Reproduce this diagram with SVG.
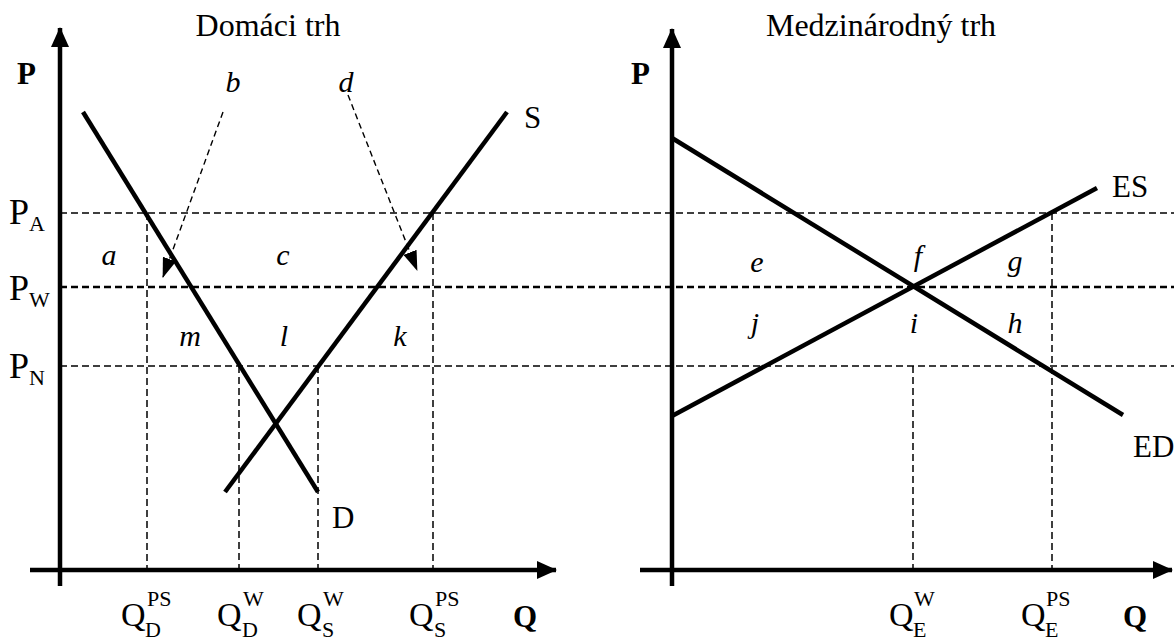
<svg xmlns="http://www.w3.org/2000/svg" width="1174" height="644" viewBox="0 0 1174 644">
<defs>
<marker id="ax" markerWidth="20" markerHeight="18" refX="19" refY="9" orient="auto" markerUnits="userSpaceOnUse"><path d="M0,0 L20,9 L0,18 Z" fill="#000"/></marker>
<marker id="ar" markerWidth="20" markerHeight="14" refX="19" refY="7" orient="auto" markerUnits="userSpaceOnUse"><path d="M0,0 L20,7 L0,14 Z" fill="#000"/></marker>
</defs>
<style>
.axis{stroke:#000;stroke-width:4.5;fill:none}
.curve{stroke:#000;stroke-width:4.5;fill:none;stroke-linecap:butt}
.dash{stroke:#000;stroke-width:1.5;stroke-dasharray:7 4;fill:none}
.dashb{stroke:#000;stroke-width:2.5;stroke-dasharray:7 4;fill:none}
.ptr{stroke:#000;stroke-width:1.4;stroke-dasharray:6 4;fill:none}
.t{font-family:"Liberation Serif",serif;fill:#000}
.title{font-size:32px}
.bold{font-family:"Liberation Serif",serif;font-weight:bold;font-size:31px}
.lab{font-size:31px}
.it{font-family:"Liberation Serif",serif;font-style:italic;font-size:30px}
.big{font-size:34px}
.sub{font-size:22px}
.pp{font-size:36px}
</style>
<rect width="1174" height="644" fill="#fff"/>
<g id="guides">
<line class="dash" x1="60" y1="213" x2="1174" y2="213"/>
<line class="dashb" x1="60" y1="287" x2="1174" y2="287"/>
<line class="dash" x1="60" y1="366" x2="1174" y2="366"/>
<line class="dash" x1="147" y1="213" x2="147" y2="570"/>
<line class="dash" x1="239" y1="366" x2="239" y2="570"/>
<line class="dash" x1="318" y1="366" x2="318" y2="570"/>
<line class="dash" x1="433" y1="213" x2="433" y2="570"/>
<line class="dash" x1="913" y1="366" x2="913" y2="570"/>
<line class="dash" x1="1052" y1="213" x2="1052" y2="570"/>
</g>
<g id="axes">
<line class="axis" x1="60" y1="586" x2="60" y2="28" marker-end="url(#ax)"/>
<line class="axis" x1="30" y1="570" x2="556" y2="570" marker-end="url(#ax)"/>
<line class="axis" x1="672" y1="586" x2="672" y2="29" marker-end="url(#ax)"/>
<line class="axis" x1="640" y1="570" x2="1172" y2="570" marker-end="url(#ax)"/>
</g>
<g id="curves">
<line id="D" class="curve" x1="83" y1="112" x2="318" y2="492"/>
<line id="S" class="curve" x1="225" y1="492" x2="507" y2="112"/>
<line id="ED" class="curve" x1="672" y1="138" x2="1123" y2="415"/>
<line id="ES" class="curve" x1="672" y1="416" x2="1097" y2="188"/>
</g>
<g id="connectors">
<line class="ptr" x1="223" y1="112" x2="163" y2="277" marker-end="url(#ar)"/>
<line class="ptr" x1="348" y1="95" x2="417" y2="270" marker-end="url(#ar)"/>
</g>
<g id="titles">
<text class="t title" x="268" y="36" text-anchor="middle">Domáci trh</text>
<text class="t title" x="881" y="36" text-anchor="middle">Medzinárodný trh</text>
</g>
<g id="axis-labels">
<text class="bold" x="17" y="84">P</text>
<text class="bold" x="631" y="84">P</text>
<text class="bold" x="513" y="627">Q</text>
<text class="bold" x="1123" y="627">Q</text>
<text class="t lab" x="524" y="128">S</text>
<text class="t lab" x="332" y="528">D</text>
<text class="t lab" x="1112" y="197">ES</text>
<text class="t lab" x="1133" y="457">ED</text>
</g>
<g id="price-labels">
<text class="t pp" x="9" y="224">P<tspan class="sub" dy="7">A</tspan></text>
<text class="t pp" x="9" y="300">P<tspan class="sub" dy="7">W</tspan></text>
<text class="t pp" x="9" y="378">P<tspan class="sub" dy="7">N</tspan></text>
</g>
<g id="q-labels">
<text class="t big" x="121" y="626">Q</text><text class="t sub" x="147" y="606">PS</text><text class="t sub" x="145" y="637">D</text>
<text class="t big" x="217" y="626">Q</text><text class="t sub" x="243" y="606">W</text><text class="t sub" x="242" y="637">D</text>
<text class="t big" x="297" y="626">Q</text><text class="t sub" x="323" y="606">W</text><text class="t sub" x="322" y="637">S</text>
<text class="t big" x="409" y="626">Q</text><text class="t sub" x="435" y="606">PS</text><text class="t sub" x="434" y="637">S</text>
<text class="t big" x="889" y="626">Q</text><text class="t sub" x="914" y="606">W</text><text class="t sub" x="913" y="637">E</text>
<text class="t big" x="1021" y="626">Q</text><text class="t sub" x="1046" y="606">PS</text><text class="t sub" x="1045" y="637">E</text>
</g>
<g id="area-labels" text-anchor="middle">
<text class="it" x="109" y="265">a</text>
<text class="it" x="233" y="92">b</text>
<text class="it" x="283" y="265">c</text>
<text class="it" x="346" y="92">d</text>
<text class="it" x="190" y="346">m</text>
<text class="it" x="284" y="346">l</text>
<text class="it" x="400" y="346">k</text>
<text class="it" x="757" y="272">e</text>
<text class="it" x="918" y="266">f</text>
<text class="it" x="1015" y="271">g</text>
<text class="it" x="755" y="333">j</text>
<text class="it" x="914" y="333">i</text>
<text class="it" x="1015" y="333">h</text>
</g>
</svg>
